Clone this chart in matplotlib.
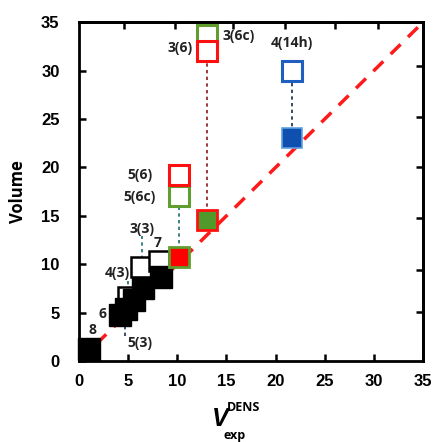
import matplotlib
matplotlib.use("Agg")
import matplotlib.pyplot as plt

# ---- data ----
black_x = [1.0, 4.2, 4.8, 5.6, 6.5, 8.3]
black_y = [1.2, 4.8, 5.4, 6.3, 7.5, 8.7]

open_black_x = [5.0, 6.3, 8.1]
open_black_y = [6.6, 9.7, 10.3]

red_open_x = [10.2, 13.0]
red_open_y = [19.2, 32.0]
green_open_x = [10.2, 13.0]
green_open_y = [17.0, 33.7]
blue_open_x = [21.7]
blue_open_y = [30.0]

red_fill_x = [10.2]
red_fill_y = [10.8]
green_fill_x = [13.0]
green_fill_y = [14.6]
blue_fill_x = [21.7]
blue_fill_y = [23.0]

labels = ["8", "6", "5(3)", "4(3)", "3(3)", "7", "5(6)", "5(6c)", "3(6)", "3(6c)", "4(14h)"]
label_x = [1.4, 2.4, 6.2, 3.9, 6.4, 8.0, 6.2, 6.2, 10.3, 16.2, 21.7]
label_y = [3.2, 4.9, 1.9, 9.1, 13.6, 12.2, 19.2, 16.9, 32.3, 33.6, 32.8]

xticks = [0, 5, 10, 15, 20, 25, 30, 35]
yticks = [0, 5, 10, 15, 20, 25, 30, 35]

fig = plt.figure(figsize=(4.34, 4.42), dpi=100)
ax = fig.add_axes([0.182, 0.183, 0.793, 0.767])
ax.set_xlim(0, 35)
ax.set_ylim(0, 35)

# identity line
ax.plot([0, 35], [0, 35], color="#ff1a1a", lw=2.5, ls=(0, (4, 3)), zorder=2)

# connectors
ax.plot([13.0, 13.0], [14.6, 31.0], color="#8b1a1a", lw=1.2, ls=(0, (2, 2)), zorder=1)
ax.plot([10.2, 10.2], [11.5, 16.0], color="#1a6e6e", lw=1.2, ls=(0, (2, 2)), zorder=1)
ax.plot([21.7, 21.7], [23.5, 29.0], color="#1a2a4a", lw=1.2, ls=(0, (2, 2)), zorder=1)
ax.plot([6.4, 6.4], [10.5, 12.9], color="#1a6e6e", lw=1.2, ls=(0, (2, 2)), zorder=1)
ax.plot([5.0, 5.0], [7.2, 8.4], color="#1a6e6e", lw=1.2, ls=(0, (2, 2)), zorder=1)
ax.plot([4.7, 4.7], [2.6, 4.0], color="#1a2a4a", lw=1.2, ls=(0, (2, 2)), zorder=1)

ms = 14.5
# labels (under markers)
for t, x, y in zip(labels, label_x, label_y):
    ax.text(x, y, t, ha="center", va="center", fontsize=10, fontweight="bold",
            color="#222222", zorder=3, family="Open Sans")

ax.plot(open_black_x, open_black_y, "s", ms=ms, mfc="white", mec="black", mew=1.8, zorder=4, clip_on=False)
ax.plot(black_x, black_y, "s", ms=15.5, mfc="black", mec="black", mew=1, zorder=5, clip_on=False)
ax.plot(green_open_x, green_open_y, "s", ms=ms, mfc="white", mec="#5f9e2f", mew=2.2, zorder=4, clip_on=False)
ax.plot(red_open_x, red_open_y, "s", ms=ms, mfc="white", mec="#ff1010", mew=2.2, zorder=4, clip_on=False)
ax.plot(blue_open_x, blue_open_y, "s", ms=ms, mfc="white", mec="#1f5fbf", mew=2.2, zorder=4)
ax.plot(red_fill_x, red_fill_y, "s", ms=ms, mfc="#ff0000", mec="#5f9e2f", mew=2.0, zorder=5)
ax.plot(green_fill_x, green_fill_y, "s", ms=ms, mfc="#4f9a2a", mec="#ff1010", mew=2.0, zorder=5)
ax.plot(blue_fill_x, blue_fill_y, "s", ms=ms, mfc="#0f4fb0", mec="#5fa0e0", mew=1.2, zorder=5)

ax.set_xticks(xticks)
ax.set_yticks(yticks)
ax.tick_params(direction="in", length=5, width=1.8, labelsize=12)
ax.tick_params(axis="x", pad=9)
ax.tick_params(axis="y", pad=14)
for lab in ax.get_xticklabels() + ax.get_yticklabels():
    lab.set_fontweight("bold")
    lab.set_family("Liberation Sans")
for s in ax.spines.values():
    s.set_linewidth(2)

# secondary irregular ticks on top and right
axt = ax.secondary_xaxis("top")
axt.set_xticks([4.6, 9.8, 15.7, 20.9, 26.0, 30.4])
axt.tick_params(direction="in", length=5, width=1.8, labeltop=False)
axr = ax.secondary_yaxis("right")
axr.set_yticks([5.1, 9.4, 14.8, 20.0, 25.2, 30.5])
axr.tick_params(direction="in", length=5, width=1.8, labelright=False)
axt.spines["top"].set_linewidth(2)
axr.spines["right"].set_linewidth(2)

ax.set_ylabel("Volume", fontsize=12, fontweight="bold", family="Open Sans", labelpad=10)

fig.text(0.507, 0.052, "V", fontsize=18, fontweight="bold", style="italic",
         family="Liberation Sans", ha="center", va="center")
fig.text(0.523, 0.079, "DENS", fontsize=9, fontweight="bold", family="Open Sans",
         ha="left", va="center")
fig.text(0.514, 0.014, "exp", fontsize=9, fontweight="bold", family="Open Sans",
         ha="left", va="center")

fig.savefig("out.png", dpi=100)
